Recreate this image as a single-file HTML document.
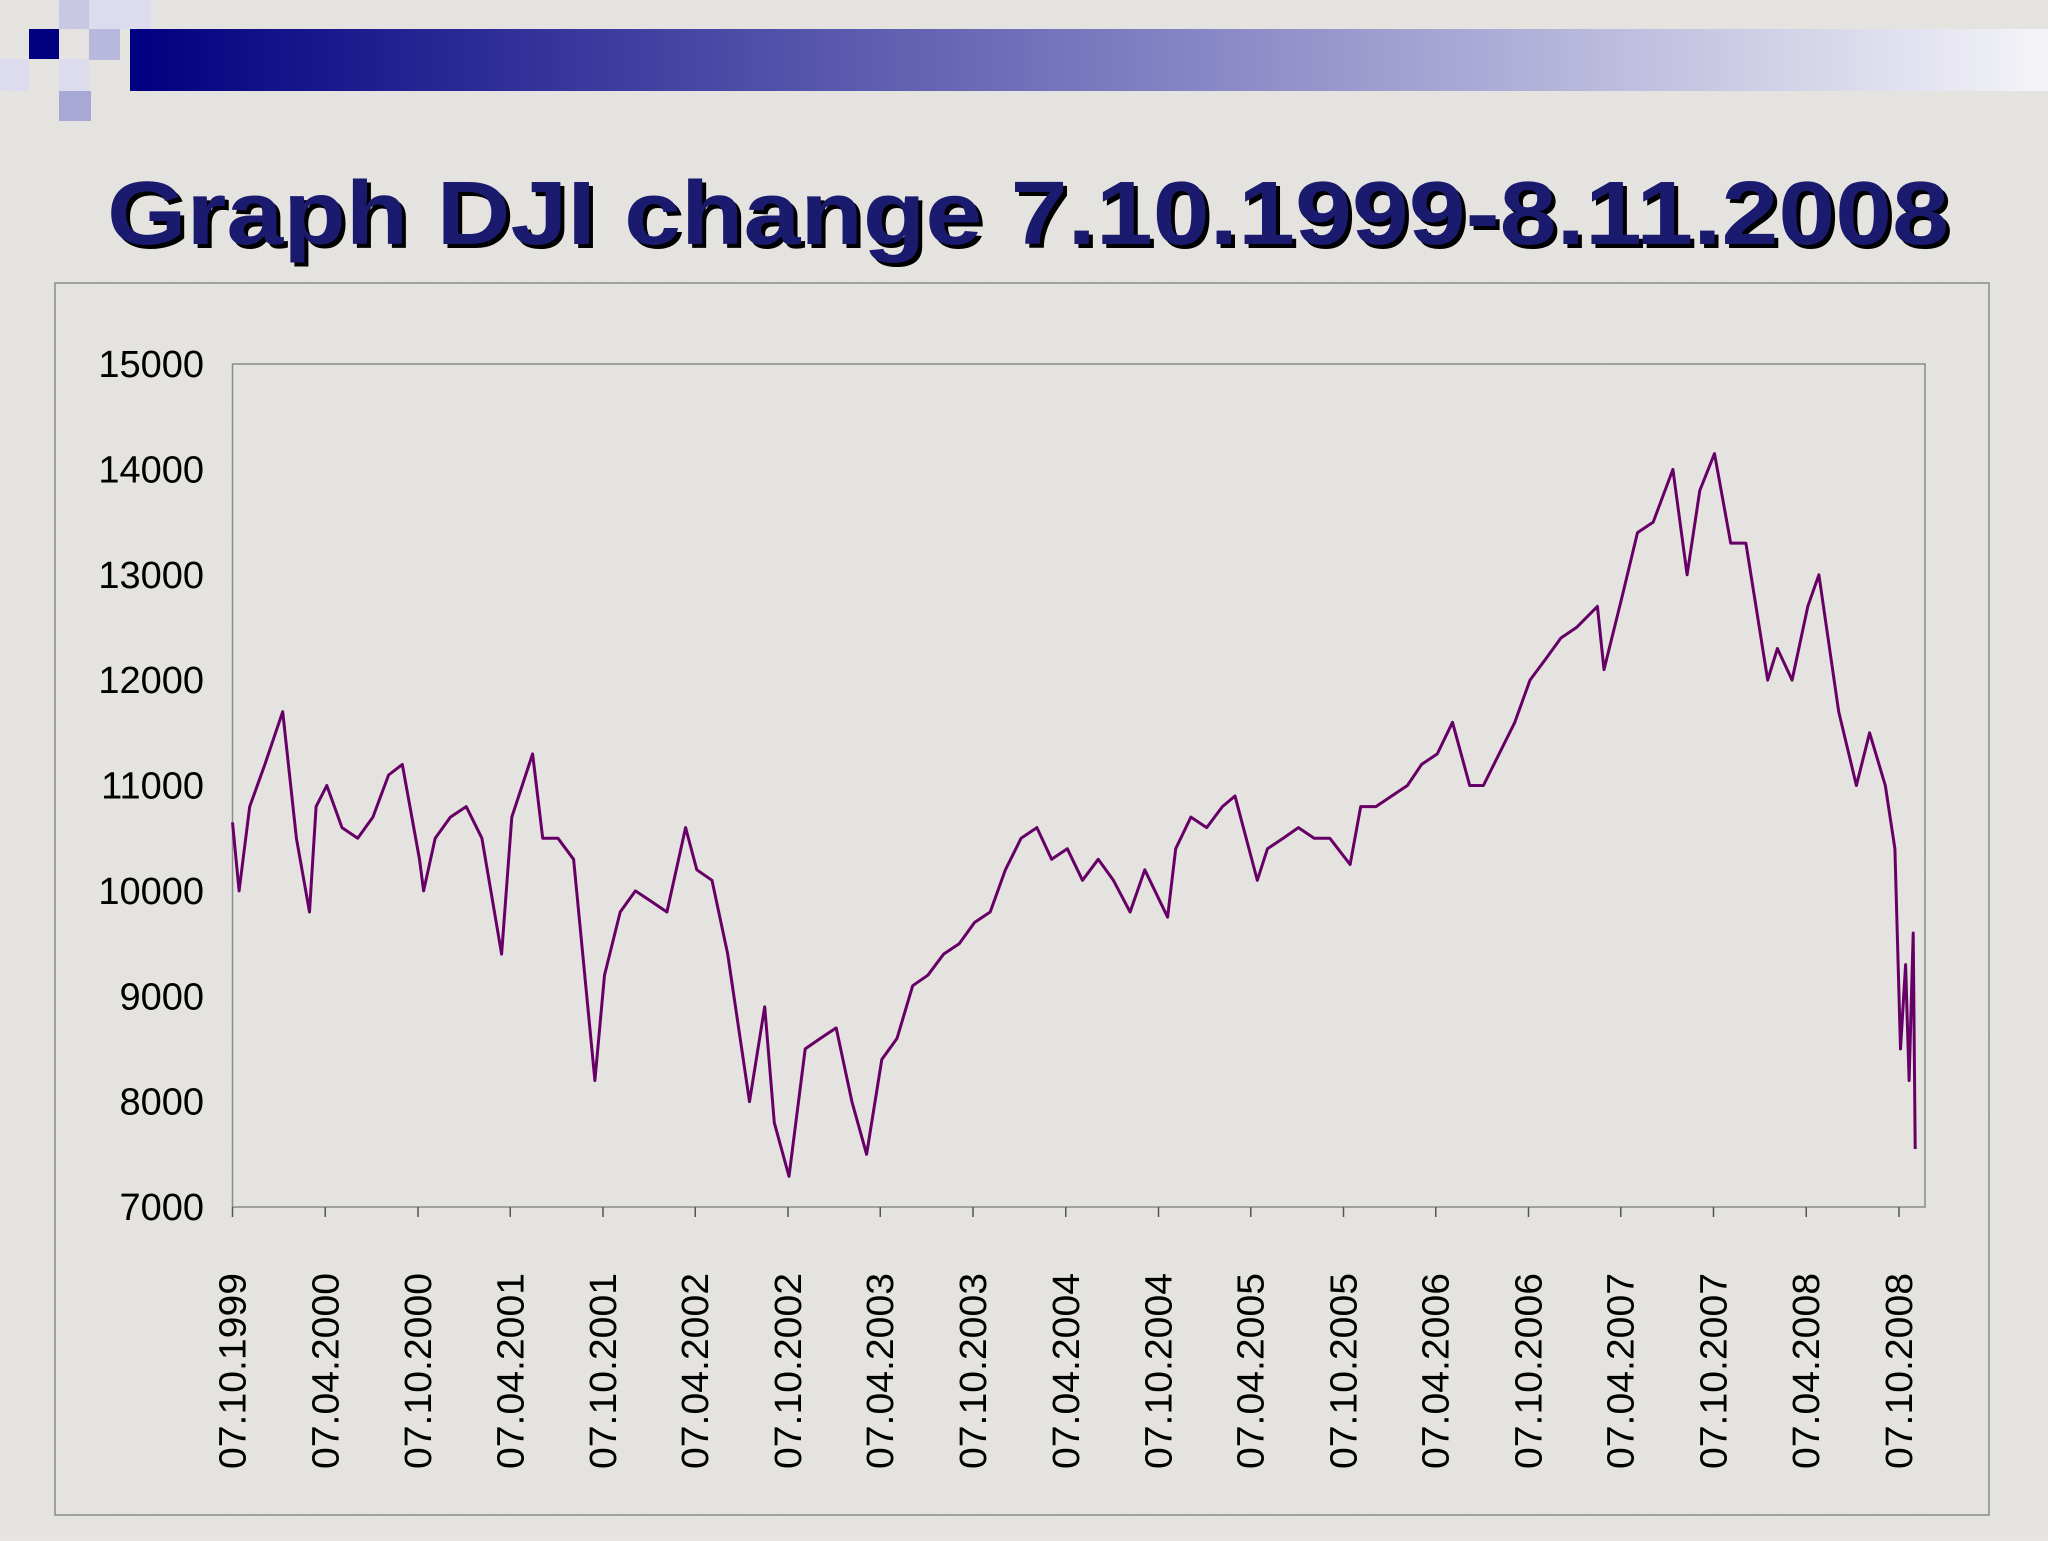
<!DOCTYPE html>
<html><head><meta charset="utf-8">
<style>
html,body{margin:0;padding:0;}
body{width:2048px;height:1536px;background:#e8e6e2;overflow:hidden;font-family:"Liberation Sans",sans-serif;}
</style></head>
<body>
<svg id="chart" width="2048" height="1536" viewBox="0 0 2048 1536" xmlns="http://www.w3.org/2000/svg">
<defs>
<filter id="noise"><feTurbulence type="fractalNoise" baseFrequency="0.9" numOctaves="2" seed="3"/><feColorMatrix type="matrix" values="0 0 0 0 0.5 0 0 0 0 0.5 0 0 0 0 0.48 0 0 0 0.18 0"/></filter>
<linearGradient id="band" x1="0" x2="1" y1="0" y2="0"><stop offset="0" stop-color="#000080"/><stop offset="0.55" stop-color="#8584c4"/><stop offset="1" stop-color="#f4f4f8"/></linearGradient>
</defs>
<rect width="2048" height="1536" fill="#e9e7e3"/>
<rect width="2048" height="1536" filter="url(#noise)"/>
<g>
<rect x="130" y="29" width="1918" height="62" fill="url(#band)"/>
<rect x="29" y="29" width="30" height="30" fill="#000080"/>
<rect x="59" y="0" width="30" height="29" fill="#c8c8e4"/>
<rect x="89" y="29" width="31" height="31" fill="#b8b8dc"/>
<rect x="89" y="0" width="62" height="29" fill="#dcdcee"/>
<rect x="0" y="59" width="29" height="32" fill="#dcdcee"/>
<rect x="59" y="59" width="30" height="32" fill="#dcdcee"/>
<rect x="59" y="91" width="32" height="30" fill="#a8a8d4"/>
</g>
<text x="1028" y="244" text-anchor="middle" font-size="90" font-weight="bold" fill="#000" textLength="1842" lengthAdjust="spacingAndGlyphs" transform="translate(4,4)">Graph DJI change 7.10.1999-8.11.2008</text>
<text x="1028" y="244" text-anchor="middle" font-size="90" font-weight="bold" fill="#1a1a6e" textLength="1842" lengthAdjust="spacingAndGlyphs">Graph DJI change 7.10.1999-8.11.2008</text>
<rect x="55" y="283" width="1934" height="1232" fill="none" stroke="#8a8a8a" stroke-width="1.5"/>
<rect x="232.5" y="364" width="1692.5" height="843" fill="none" stroke="#8a8a8a" stroke-width="1.5"/>
<g id="axes"></g>
<g id="series"></g>
</svg>
<script>
const yTicks=[7000,8000,9000,10000,11000,12000,13000,14000,15000];
const xTickLabels=["07.10.1999","07.04.2000","07.10.2000","07.04.2001","07.10.2001","07.04.2002","07.10.2002","07.04.2003","07.10.2003","07.04.2004","07.10.2004","07.04.2005","07.10.2005","07.04.2006","07.10.2006","07.04.2007","07.10.2007","07.04.2008","07.10.2008"];
const dates=["1999-10-07","1999-10-20","1999-11-10","1999-12-10","2000-01-14","2000-02-10","2000-03-07","2000-03-20","2000-04-10","2000-05-10","2000-06-10","2000-07-10","2000-08-10","2000-09-06","2000-10-10","2000-10-18","2000-11-10","2000-12-10","2001-01-10","2001-02-10","2001-03-21","2001-04-10","2001-05-21","2001-06-10","2001-07-10","2001-08-10","2001-09-21","2001-10-10","2001-11-10","2001-12-10","2002-01-10","2002-02-10","2002-03-19","2002-04-10","2002-05-10","2002-06-10","2002-07-23","2002-08-22","2002-09-10","2002-10-09","2002-11-10","2002-12-10","2003-01-10","2003-02-10","2003-03-11","2003-04-10","2003-05-10","2003-06-10","2003-07-10","2003-08-10","2003-09-10","2003-10-10","2003-11-10","2003-12-10","2004-01-10","2004-02-10","2004-03-10","2004-04-10","2004-05-10","2004-06-10","2004-07-10","2004-08-12","2004-09-10","2004-10-25","2004-11-10","2004-12-10","2005-01-10","2005-02-10","2005-03-07","2005-04-20","2005-05-10","2005-06-10","2005-07-10","2005-08-10","2005-09-10","2005-10-20","2005-11-10","2005-12-10","2006-01-10","2006-02-10","2006-03-10","2006-04-10","2006-05-10","2006-06-13","2006-07-10","2006-08-10","2006-09-10","2006-10-10","2006-11-10","2006-12-10","2007-01-10","2007-02-20","2007-03-05","2007-04-10","2007-05-10","2007-06-10","2007-07-19","2007-08-16","2007-09-10","2007-10-09","2007-11-10","2007-12-10","2008-01-22","2008-02-10","2008-03-10","2008-04-10","2008-05-02","2008-06-10","2008-07-15","2008-08-10","2008-09-10","2008-09-29","2008-10-10","2008-10-20","2008-10-27","2008-11-04","2008-11-08"];
const values=[10650,10000,10800,11200,11700,10500,9800,10800,11000,10600,10500,10700,11100,11200,10300,10000,10500,10700,10800,10500,9400,10700,11300,10500,10500,10300,8200,9200,9800,10000,9900,9800,10600,10200,10100,9400,8000,8900,7800,7290,8500,8600,8700,8000,7500,8400,8600,9100,9200,9400,9500,9700,9800,10200,10500,10600,10300,10400,10100,10300,10100,9800,10200,9750,10400,10700,10600,10800,10900,10100,10400,10500,10600,10500,10500,10250,10800,10800,10900,11000,11200,11300,11600,11000,11000,11300,11600,12000,12200,12400,12500,12700,12100,12800,13400,13500,14000,13000,13800,14150,13300,13300,12000,12300,12000,12700,13000,11700,11000,11500,11000,10400,8500,9300,8200,9600,7550];
const X0=232.5,X1=1925,Y0=1207,Y1=364,VMIN=7000,VMAX=15000;
const T0=Date.parse("1999-10-07"),TT1=Date.parse("2008-10-07"),XT1=1899;
function xs(d){return X0+(Date.parse(d)-T0)/(TT1-T0)*(XT1-X0);}
function ys(v){return Y0-(v-VMIN)/(VMAX-VMIN)*(Y0-Y1);}
const NS="http://www.w3.org/2000/svg";
const axes=document.getElementById('axes');
yTicks.forEach(v=>{
  const t=document.createElementNS(NS,'text');
  
  
  t.setAttribute('x',204);t.setAttribute('y',ys(v)+13);
  t.setAttribute('text-anchor','end');t.setAttribute('font-size','38');t.setAttribute('fill','#000');
  t.textContent=v;axes.appendChild(t);
});
xTickLabels.forEach(l=>{
  const p=l.split('.');const d=p[2]+'-'+p[1]+'-'+p[0];const x=xs(d);
  const tk=document.createElementNS(NS,'line');
  
  
  tk.setAttribute('x1',x);tk.setAttribute('x2',x);tk.setAttribute('y1',Y0);tk.setAttribute('y2',Y0+10);
  tk.setAttribute('stroke','#555');tk.setAttribute('stroke-width','1.5');axes.appendChild(tk);
  const t=document.createElementNS(NS,'text');
  
  
  t.setAttribute('transform','translate('+(x+13)+',1469) rotate(-90)');
  t.setAttribute('font-size','38');t.setAttribute('fill','#000');
  t.setAttribute('textLength','196');t.setAttribute('lengthAdjust','spacingAndGlyphs');
  t.textContent=l;axes.appendChild(t);
});
const path=document.createElementNS(NS,'path');


path.setAttribute('d',dates.map((d,i)=>(i?'L':'M')+xs(d).toFixed(1)+','+ys(values[i]).toFixed(1)).join(''));
path.setAttribute('fill','none');path.setAttribute('stroke','#660066');path.setAttribute('stroke-width','3');path.setAttribute('stroke-linejoin','round');
document.getElementById('series').appendChild(path);
</script>
</body></html>
